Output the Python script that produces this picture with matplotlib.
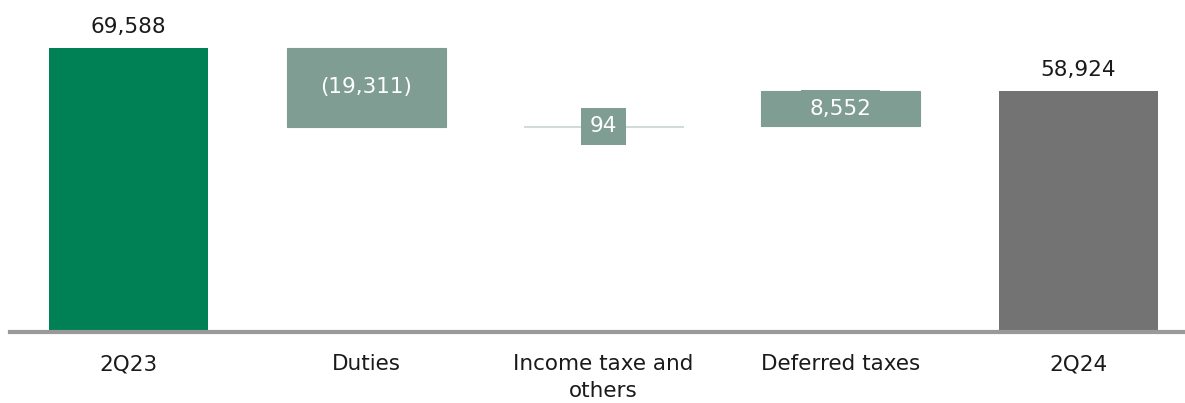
import numpy as np
import matplotlib.pyplot as plt

categories = ["2Q23", "Duties", "Income taxe and\nothers", "Deferred taxes", "2Q24"]
start_value = 69588
changes = [-19311, 94, 8552]
end_value = 58924
labels = ["69,588", "(19,311)", "94", "8,552", "58,924"]

green = "#008055"
delta = "#7F9D92"
grey = "#737373"

plt.rcParams['font.family'] = ['DejaVu Sans']

fig = plt.figure(figsize=(11.85, 4.03), dpi=100)
ax = fig.add_axes([10 / 1185, 71 / 403, 1175 / 1185, 332 / 403])

x = np.arange(len(categories))
w = 0.67
fs = 15.5

# totals
ax.bar(x[0], start_value, width=w, color=green)
ax.bar(x[-1], end_value, width=w, color=grey)
ax.text(x[0], start_value + 5200, labels[0], ha='center', va='center', fontsize=fs, color='#1a1a1a')
ax.text(x[-1], end_value + 5200, labels[-1], ha='center', va='center', fontsize=fs, color='#1a1a1a')

# floating changes
level = start_value
for i, c in enumerate(changes):
    xi = x[i + 1]
    bottom = level + min(c, 0)
    ax.bar(xi, abs(c), bottom=bottom, width=w, color=delta,
           edgecolor='#cfdcd7' if abs(c) < 1000 else delta, linewidth=0.8)
    mid = bottom + abs(c) / 2
    ax.text(xi, mid, labels[i + 1], ha='center', va='center', fontsize=fs, color='white',
            bbox=dict(boxstyle='square,pad=0.4', fc=delta, ec='none'))
    level += c

ax.set_xlim(-0.5, 4.45)
ax.set_ylim(0, 81300)
ax.set_yticks([])
ax.set_xticks(x)
ax.set_xticklabels(categories, fontsize=fs, color='#1a1a1a', linespacing=1.4)
ax.tick_params(axis='x', length=0, pad=16)
for s in ['top', 'right', 'left']:
    ax.spines[s].set_visible(False)
ax.spines['bottom'].set_color('#999999')
ax.spines['bottom'].set_linewidth(3)

fig.savefig("out.png", dpi=100)
